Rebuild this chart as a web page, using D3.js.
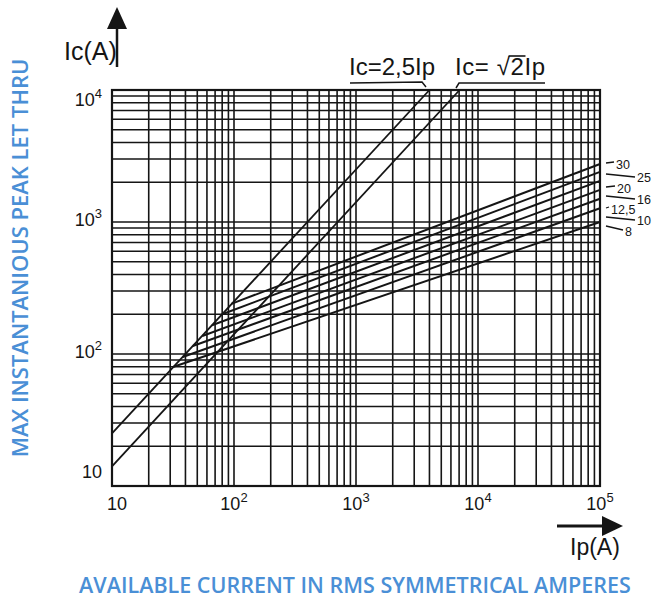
<!DOCTYPE html>
<html><head><meta charset="utf-8">
<script src="https://cdn.jsdelivr.net/npm/d3@7"></script>
<style>body{margin:0;background:#fff}svg{display:block}</style>
</head><body>
<svg id="c" width="663" height="600"></svg>
<script>
// ---- data ----
const xDecades = [10, 100, 1000, 10000, 100000];
const xTickExp = ["", "2", "3", "4", "5"];
const yDecades = [10, 100, 1000, 10000];
const yTickExp = ["", "2", "3", "4"];
const refLineNames = ["Ic=2,5Ip", "Ic= √2Ip"];
const refLineStart = [[10, 25], [10, 14.1]];
const refLineEnd = [[4000, 10000], [7070, 10000]];
const fuseRatings = ["30", "25", "20", "16", "12,5", "10", "8"];
const fuseIpStart = [95, 80, 66, 55, 46, 38, 32];
const fuseIcStart = [240, 200, 165, 137, 115, 95, 80];
const fuseIcEnd = [2750, 2400, 2050, 1750, 1500, 1270, 1000];
const yTitle = "MAX INSTANTANIOUS PEAK LET THRU";
const xTitle = "AVAILABLE CURRENT IN RMS SYMMETRICAL AMPERES";

const svg = d3.select("#c");
const L = 112, R = 600, T = 90, B = 486;
const x = d3.scaleLog().domain([10, 1e5]).range([L, R]);
const y = d3.scaleLog().domain([10, 1e4]).range([B, T]);
const ink = "#151515";
const blue = "#4a8fd6";

// grid
const xGrid = [];
xDecades.slice(0, -1).forEach(d => { for (let k = 1; k < 10; k++) xGrid.push(d * k); });
xGrid.push(1e5);
const yGrid = [];
yDecades.slice(0, -1).forEach(d => { for (let k = 1; k < 10; k++) yGrid.push(d * k); });
yGrid.push(1e4);
const g = svg.append("g");
g.selectAll(".vx").data(xGrid).join("line")
  .attr("x1", d => x(d)).attr("x2", d => x(d)).attr("y1", T).attr("y2", B)
  .attr("stroke", ink).attr("stroke-width", 1.6);
g.selectAll(".hy").data(yGrid).join("line")
  .attr("y1", d => y(d)).attr("y2", d => y(d)).attr("x1", L).attr("x2", R)
  .attr("stroke", ink).attr("stroke-width", 1.6);
g.append("rect").attr("x", L).attr("y", T).attr("width", R - L).attr("height", B - T)
  .attr("fill", "none").attr("stroke", ink).attr("stroke-width", 2.2);

// reference lines
refLineStart.forEach((s, i) => {
  g.append("line").attr("x1", x(s[0])).attr("y1", y(s[1]))
    .attr("x2", x(refLineEnd[i][0])).attr("y2", y(refLineEnd[i][1]))
    .attr("stroke", ink).attr("stroke-width", 1.8);
});
// fuse curves
fuseRatings.forEach((r, i) => {
  g.append("line").attr("x1", x(fuseIpStart[i])).attr("y1", y(fuseIcStart[i]))
    .attr("x2", x(1e5)).attr("y2", y(fuseIcEnd[i]))
    .attr("stroke", ink).attr("stroke-width", 2);
});

// right labels (layout: text centre y and x per label)
const font = "Liberation Sans, Arial, sans-serif";
const lab = svg.append("g").attr("font-family", font).attr("font-size", 12.5).attr("fill", ink);
const labCy = [164, 177, 188, 199, 209, 220, 231];
const labX = [616, 637, 617, 637, 611, 637, 625];
fuseRatings.forEach((r, i) => {
  const cy = labCy[i];
  const right = labX[i] > 630;
  lab.append("line").attr("x1", 606).attr("x2", labX[i] - 2)
    .attr("y1", right ? cy - 3 : (i === 6 ? cy - 5 : cy - 1))
    .attr("y2", right ? cy : (i === 6 ? cy - 1 : cy - 2))
    .attr("stroke", ink).attr("stroke-width", 1.3);
  lab.append("text").attr("x", labX[i]).attr("y", cy + 4.5).text(r);
});

// tick labels
const tk = svg.append("g").attr("font-family", font).attr("fill", ink);
xDecades.forEach((d, i) => {
  const t = tk.append("text").attr("x", x(d) + (i === 0 ? 5 : 0)).attr("y", 510)
    .attr("text-anchor", "middle").attr("font-size", 18);
  t.append("tspan").text("10");
  if (xTickExp[i]) t.append("tspan").attr("dy", -8).attr("font-size", 13).text(xTickExp[i]);
});
yDecades.forEach((d, i) => {
  const t = tk.append("text").attr("x", 102).attr("y", y(d) + (i === 0 ? -8 : 4) + (i === 3 ? 12 : 0))
    .attr("text-anchor", "end").attr("font-size", 18);
  t.append("tspan").text("10");
  if (yTickExp[i]) t.append("tspan").attr("dy", -8).attr("font-size", 13).text(yTickExp[i]);
});

// axis arrows & names
svg.append("line").attr("x1", 117).attr("x2", 117).attr("y1", 67).attr("y2", 26)
  .attr("stroke", ink).attr("stroke-width", 2.5);
svg.append("path").attr("d", "M117,7 L107,29 L127,29 Z").attr("fill", ink);
svg.append("text").attr("x", 64).attr("y", 60).attr("font-family", font).attr("font-size", 25)
  .attr("fill", ink).text("Ic(A)");
svg.append("line").attr("x1", 557).attr("x2", 605).attr("y1", 526).attr("y2", 526)
  .attr("stroke", ink).attr("stroke-width", 3);
svg.append("path").attr("d", "M623,526 L602,516 L602,536 Z").attr("fill", ink);
svg.append("text").attr("x", 570).attr("y", 555).attr("font-family", font).attr("font-size", 23)
  .attr("fill", ink).text("Ip(A)");

// reference line names
const nm = svg.append("g").attr("font-family", font).attr("font-size", 24).attr("fill", ink);
nm.append("text").attr("x", 349).attr("y", 75).text(refLineNames[0]);
const t2 = nm.append("text").attr("x", 455).attr("y", 75).attr("letter-spacing", 0.6).text(refLineNames[1]);
// radical overbar above the "2"
const node = t2.node();
const idx = refLineNames[1].indexOf("2");
const ext = node.getExtentOfChar(idx);
const rad = node.getExtentOfChar(idx - 1);
svg.append("line").attr("x1", rad.x + rad.width - 2).attr("x2", ext.x + ext.width + 1)
  .attr("y1", ext.y + 3).attr("y2", ext.y + 3).attr("stroke", ink).attr("stroke-width", 1.6);
svg.append("path").attr("d", "M350,83 L422,82 L426,87").attr("fill", "none").attr("stroke", ink).attr("stroke-width", 1.5);
svg.append("path").attr("d", "M456,88 L459,83 L545,83").attr("fill", "none").attr("stroke", ink).attr("stroke-width", 1.5);

// blue titles
const tf = "'Open Sans', 'Noto Sans', sans-serif";
svg.append("text").attr("transform", "translate(28,258) rotate(-90)")
  .attr("text-anchor", "middle").attr("font-family", tf).attr("font-weight", 600)
  .attr("font-size", 22).attr("fill", blue).text(yTitle);
svg.append("text").attr("x", 355).attr("y", 593)
  .attr("text-anchor", "middle").attr("font-family", tf).attr("font-weight", 600)
  .attr("font-size", 21.5).attr("fill", blue).text(xTitle);
</script>
</body></html>
